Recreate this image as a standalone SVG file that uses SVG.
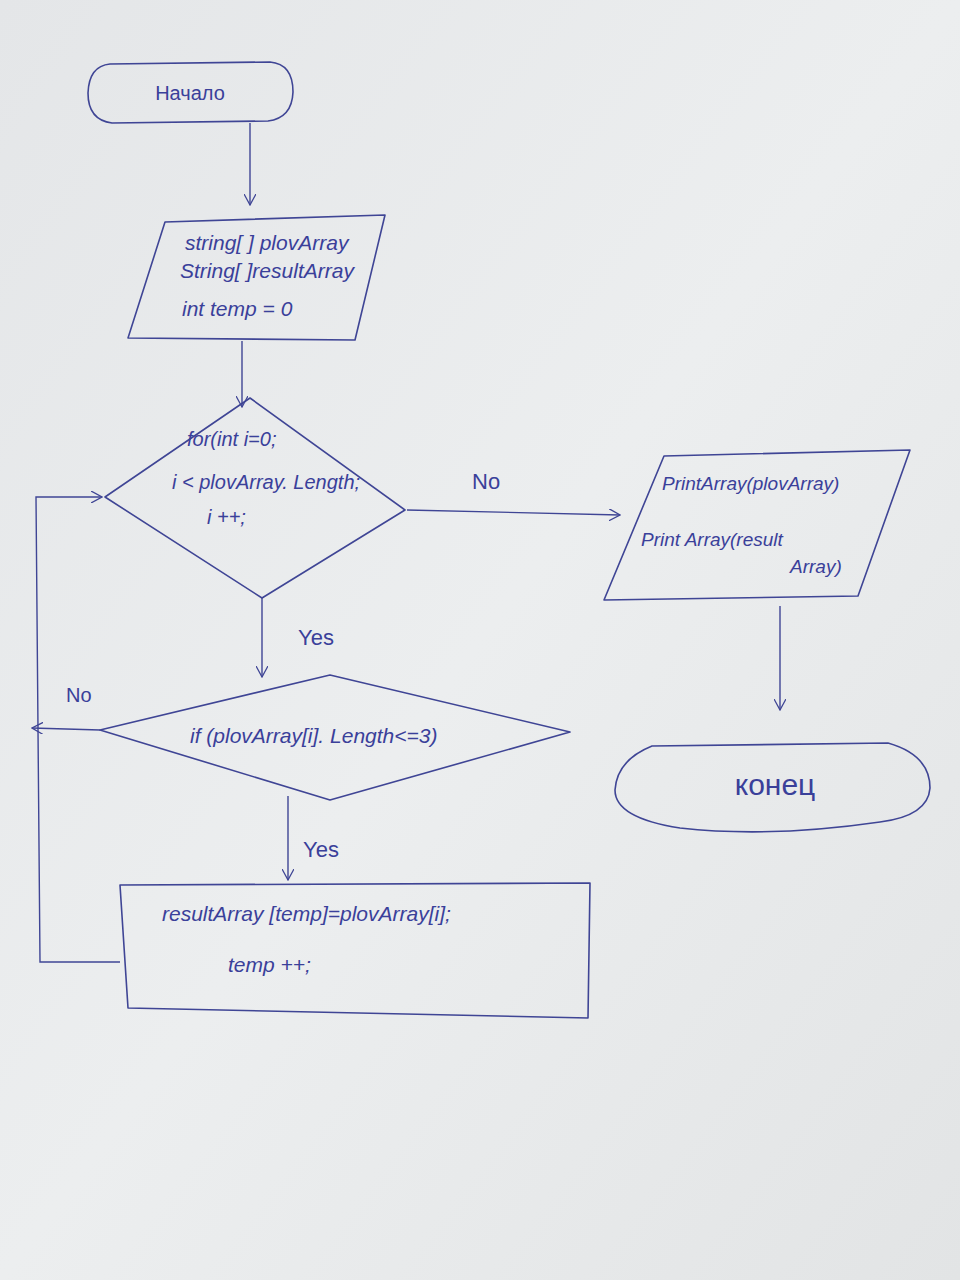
<svg xmlns="http://www.w3.org/2000/svg" width="960" height="1280" viewBox="0 0 960 1280">
<defs>
<linearGradient id="paper" x1="0" y1="0" x2="1" y2="1">
<stop offset="0" stop-color="#e4e6e8"/>
<stop offset="0.5" stop-color="#eceeef"/>
<stop offset="1" stop-color="#e2e4e5"/>
</linearGradient>
<marker id="arr" viewBox="0 0 12 12" refX="11" refY="6" markerWidth="12" markerHeight="12" markerUnits="userSpaceOnUse" orient="auto">
<path d="M0,0 L11,6 L0,12" fill="none" stroke="#3f4595" stroke-width="1.3"/>
</marker>
</defs>
<style>
.s{fill:none;stroke:#3f4595;stroke-width:1.6;stroke-linejoin:round;stroke-linecap:round}
.c{fill:none;stroke:#3f4595;stroke-width:1.4;marker-end:url(#arr)}
.t{font-family:"Liberation Sans",Arial,sans-serif;font-style:italic;fill:#3a409a}
.n{font-style:normal}
</style>
<rect width="960" height="1280" fill="url(#paper)"/>
<g id="start">
<path class="s" d="M110,64 L270,62 Q293,64 293,92 Q292,118 268,121 L112,123 Q88,120 88,93 Q89,66 110,64 Z"/>
<text class="t n" x="190" y="100" font-size="20" text-anchor="middle">Начало</text>
</g>
<g id="init">
<path class="s" d="M165,222 L385,215 L355,340 L128,338 Z"/>
<text class="t" x="185" y="250" font-size="21">string[ ] plovArray</text>
<text class="t" x="180" y="278" font-size="21">String[ ]resultArray</text>
<text class="t" x="182" y="316" font-size="21">int temp = 0</text>
</g>
<g id="loop">
<path class="s" d="M250,398 L405,510 L262,598 L105,497 Z"/>
<text class="t" x="187" y="446" font-size="20">for(int i=0;</text>
<text class="t" x="172" y="489" font-size="20">i &lt; plovArray. Length;</text>
<text class="t" x="207" y="524" font-size="20">i ++;</text>
</g>
<g id="print">
<path class="s" d="M664,456 L910,450 L858,596 L604,600 Z"/>
<text class="t" x="662" y="490" font-size="19">PrintArray(plovArray)</text>
<text class="t" x="641" y="546" font-size="19">Print Array(result</text>
<text class="t" x="790" y="573" font-size="19">Array)</text>
</g>
<g id="end">
<path class="s" d="M652,746 L888,743 Q930,755 930,788 Q928,816 880,822 Q770,838 680,828 Q615,818 615,790 Q617,760 652,746 Z"/>
<text class="t n" x="775" y="795" font-size="30" text-anchor="middle">конец</text>
</g>
<g id="cond">
<path class="s" d="M330,675 L570,732 L330,800 L100,730 Z"/>
<text class="t" x="190" y="743" font-size="21">if (plovArray[i]. Length&lt;=3)</text>
</g>
<g id="body">
<path class="s" d="M120,885 L590,883 L588,1018 L128,1008 Z"/>
<text class="t" x="162" y="921" font-size="21">resultArray [temp]=plovArray[i];</text>
<text class="t" x="228" y="972" font-size="21">temp ++;</text>
</g>
<g id="connectors">
<line class="c" x1="250" y1="123" x2="250" y2="205"/>
<line class="c" x1="242" y1="341" x2="242" y2="407"/>
<line class="c" x1="407" y1="510" x2="620" y2="515"/>
<line class="c" x1="262" y1="598" x2="262" y2="677"/>
<line class="c" x1="780" y1="606" x2="780" y2="710"/>
<line class="c" x1="100" y1="730" x2="32" y2="728"/>
<line class="c" x1="288" y1="796" x2="288" y2="880"/>
<polyline class="c" points="120,962 40,962 36,497 102,497"/>
<text class="t n" x="472" y="489" font-size="22">No</text>
<text class="t n" x="298" y="645" font-size="22">Yes</text>
<text class="t n" x="66" y="702" font-size="20">No</text>
<text class="t n" x="303" y="857" font-size="22">Yes</text>
</g>
</svg>
